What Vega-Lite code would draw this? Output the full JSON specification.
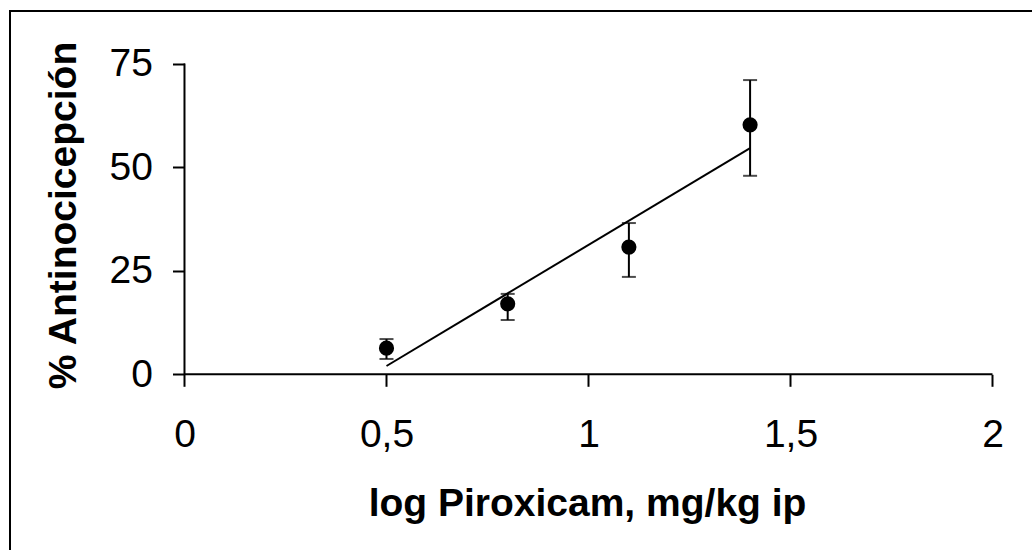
{
  "$schema": "https://vega.github.io/schema/vega-lite/v6.json",
  "width": 1030,
  "height": 545,
  "autosize": {"type": "none"},
  "padding": {"left": 10, "top": 11, "right": -8, "bottom": -6},
  "background": "white",
  "config": {
    "view": {"stroke": "black", "strokeWidth": 2},
    "font": "Liberation Sans"
  },
  "datasets": {
    "points": [
      {"log_dose": 0.5, "antinocicepcion": 6.3, "lower": 3.7, "upper": 8.5},
      {"log_dose": 0.8, "antinocicepcion": 17.0, "lower": 13.1, "upper": 19.4},
      {"log_dose": 1.1, "antinocicepcion": 30.7, "lower": 23.5, "upper": 36.5},
      {"log_dose": 1.4, "antinocicepcion": 60.2, "lower": 47.9, "upper": 71.0}
    ],
    "fit": [
      {"log_dose": 0.5, "antinocicepcion": 2.0},
      {"log_dose": 1.4, "antinocicepcion": 54.6}
    ],
    "axisline": [{"axis": "frame"}]
  },
  "layer": [
    {
      "data": {"name": "axisline"},
      "mark": {"type": "rule", "color": "black", "strokeWidth": 2},
      "encoding": {
        "x": {"datum": 0, "type": "quantitative", "scale": {"domain": [-0.4319, 2.1176], "nice": false, "zero": false}},
        "y": {"datum": 0, "type": "quantitative", "scale": {"domain": [-43.85, 87.67], "nice": false, "zero": false}},
        "y2": {"datum": 75}
      }
    },
    {
      "data": {"name": "axisline"},
      "mark": {"type": "rule", "color": "black", "strokeWidth": 2},
      "encoding": {
        "x": {"datum": 0, "type": "quantitative"},
        "x2": {"datum": 2},
        "y": {"datum": 0, "type": "quantitative"}
      }
    },
    {
      "data": {"name": "fit"},
      "mark": {"type": "line", "color": "black", "strokeWidth": 2},
      "encoding": {
        "x": {"field": "log_dose", "type": "quantitative"},
        "y": {"field": "antinocicepcion", "type": "quantitative"}
      }
    },
    {
      "data": {"name": "points"},
      "mark": {"type": "rule", "color": "black", "strokeWidth": 2},
      "encoding": {
        "x": {"field": "log_dose", "type": "quantitative"},
        "y": {"field": "lower", "type": "quantitative"},
        "y2": {"field": "upper"}
      }
    },
    {
      "data": {"name": "points"},
      "mark": {"type": "tick", "color": "black", "orient": "horizontal", "size": 14, "thickness": 2},
      "encoding": {
        "x": {"field": "log_dose", "type": "quantitative"},
        "y": {"field": "lower", "type": "quantitative"}
      }
    },
    {
      "data": {"name": "points"},
      "mark": {"type": "tick", "color": "black", "orient": "horizontal", "size": 14, "thickness": 2},
      "encoding": {
        "x": {"field": "log_dose", "type": "quantitative"},
        "y": {"field": "upper", "type": "quantitative"}
      }
    },
    {
      "data": {"name": "points"},
      "mark": {"type": "point", "filled": true, "color": "black", "opacity": 1, "size": 230, "shape": "circle"},
      "encoding": {
        "x": {
          "field": "log_dose",
          "type": "quantitative",
          "axis": {
            "title": "log Piroxicam, mg/kg ip",
            "values": [0, 0.5, 1, 1.5, 2],
            "format": ".1~f",
            "labelExpr": "replace(datum.label, '.', ',')",
            "offset": -181.7,
            "domain": false,
            "grid": false,
            "ticks": true,
            "tickSize": 12,
            "tickWidth": 2,
            "tickColor": "black",
            "labelFont": "Liberation Sans",
            "labelFontSize": 39,
            "labelColor": "black",
            "labelPadding": 29,
            "labelFlush": false,
            "labelOverlap": false,
            "titleFont": "Liberation Sans",
            "titleFontSize": 39,
            "titleFontWeight": "bold",
            "titleColor": "black",
            "titleBaseline": "alphabetic",
            "titleAlign": "center",
            "titleX": 577,
            "titleY": 141
          }
        },
        "y": {
          "field": "antinocicepcion",
          "type": "quantitative",
          "axis": {
            "title": "% Antinocicepción",
            "values": [0, 25, 50, 75],
            "format": "d",
            "offset": -174.5,
            "domain": false,
            "grid": false,
            "ticks": true,
            "tickSize": 12,
            "tickWidth": 2,
            "tickColor": "black",
            "labelFont": "Liberation Sans",
            "labelFontSize": 39,
            "labelColor": "black",
            "labelPadding": 20,
            "labelFlush": false,
            "labelOverlap": false,
            "labelBaseline": "middle",
            "titleFont": "Liberation Sans",
            "titleFontSize": 39,
            "titleFontWeight": "bold",
            "titleColor": "black",
            "titleAngle": -90,
            "titleBaseline": "alphabetic",
            "titleAlign": "center",
            "titleX": -109.5,
            "titleY": 204
          }
        }
      }
    }
  ]
}
